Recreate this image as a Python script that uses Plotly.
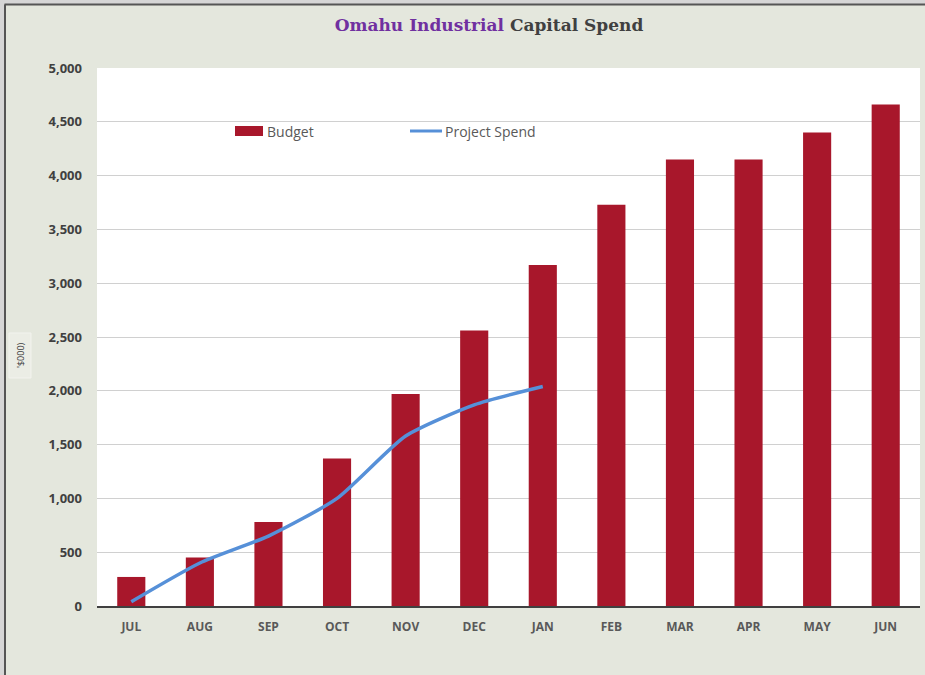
import plotly.graph_objects as go

months = ["JUL", "AUG", "SEP", "OCT", "NOV", "DEC", "JAN", "FEB", "MAR", "APR", "MAY", "JUN"]
budget = [270, 450, 780, 1370, 1970, 2560, 3170, 3730, 4150, 4150, 4400, 4660]
spend_months = ["JUL", "AUG", "SEP", "OCT", "NOV", "DEC", "JAN"]
project_spend = [40, 400, 650, 1000, 1580, 1870, 2040]
y_ticks = [0, 500, 1000, 1500, 2000, 2500, 3000, 3500, 4000, 4500, 5000]

BAR_COLOR = "#a8172b"
LINE_COLOR = "#5690d8"

W, H = 925, 675
ML, MR, MT, MB = 97, 5, 68, 69
PW, PH = W - ML - MR, H - MT - MB


def px(x):
    return (x - ML) / PW


def py(y):
    return 1 - (y - MT) / PH


fig = go.Figure()
fig.add_trace(go.Bar(
    x=months, y=budget, name="Budget",
    marker=dict(color=BAR_COLOR, line=dict(width=0)),
    width=0.41, showlegend=False,
))
fig.add_trace(go.Scatter(
    x=spend_months, y=project_spend, name="Project Spend", mode="lines",
    line=dict(color=LINE_COLOR, width=3.5, shape="spline", smoothing=0.6),
    showlegend=False,
))

shapes = [
    # outer frame
    dict(type="rect", xref="paper", yref="paper", x0=px(0), x1=px(W), y0=py(0), y1=py(4),
         fillcolor="#d6d6d6", line=dict(width=0), layer="below"),
    dict(type="rect", xref="paper", yref="paper", x0=px(0), x1=px(4), y0=py(0), y1=py(H),
         fillcolor="#d6d6d6", line=dict(width=0), layer="below"),
    dict(type="line", xref="paper", yref="paper", x0=px(4.5), x1=px(W), y0=py(4.5), y1=py(4.5),
         line=dict(color="#555555", width=2)),
    dict(type="line", xref="paper", yref="paper", x0=px(5), x1=px(5), y0=py(4.5), y1=py(H),
         line=dict(color="#555555", width=2)),
    # box around axis title
    dict(type="rect", xref="paper", yref="paper", x0=px(9), x1=px(31), y0=py(333), y1=py(378),
         fillcolor="rgba(255,255,255,0.25)", line=dict(color="#f2f3ee", width=1), layer="below"),
    # legend keys
    dict(type="rect", xref="paper", yref="paper", x0=px(235), x1=px(263), y0=py(126), y1=py(136),
         fillcolor=BAR_COLOR, line=dict(width=0)),
    dict(type="line", xref="paper", yref="paper", x0=px(410), x1=px(442), y0=py(131), y1=py(131),
         line=dict(color=LINE_COLOR, width=3)),
]

annotations = [
    dict(text="Budget", xref="paper", yref="paper", x=px(265), y=py(131),
         xanchor="left", yanchor="middle", showarrow=False,
         font=dict(family="Open Sans", size=14, color="#595959")),
    dict(text="Project Spend", xref="paper", yref="paper", x=px(443), y=py(131),
         xanchor="left", yanchor="middle", showarrow=False,
         font=dict(family="Open Sans", size=14, color="#595959")),
    dict(text="'$000)", xref="paper", yref="paper", x=px(20), y=py(355),
         xanchor="center", yanchor="middle", showarrow=False, textangle=-90,
         font=dict(family="Open Sans", size=9, color="#404040")),
]

fig.update_layout(
    width=W, height=H,
    margin=dict(l=ML, r=MR, t=MT, b=MB),
    paper_bgcolor="#e4e7dd",
    plot_bgcolor="#ffffff",
    shapes=shapes,
    annotations=annotations,
    title=dict(
        text="<span style='color:#7030a0'>Omahu Industrial</span> <span style='color:#404040'>Capital Spend</span>",
        x=489 / W, xref="container", xanchor="center", y=1 - 25 / H, yanchor="middle",
        font=dict(family="DejaVu Serif", size=17, weight="bold"),
    ),
    showlegend=False,
    bargap=0.5,
    xaxis=dict(
        categoryorder="array", categoryarray=months,
        showgrid=False, showline=True, linecolor="#404040", linewidth=2,
        ticks="", tickfont=dict(family="Open Sans", size=12, color="#595959", weight="bold"),
        ticklabelstandoff=9,
    ),
    yaxis=dict(
        range=[0, 5000], tickvals=y_ticks, tickformat=",",
        showgrid=True, gridcolor="#d0d0d0", gridwidth=1, zeroline=False,
        ticks="", tickfont=dict(family="Open Sans", size=13, color="#404040", weight="bold"),
        ticklabelstandoff=14,
    ),
)

fig.write_html("out.html")
